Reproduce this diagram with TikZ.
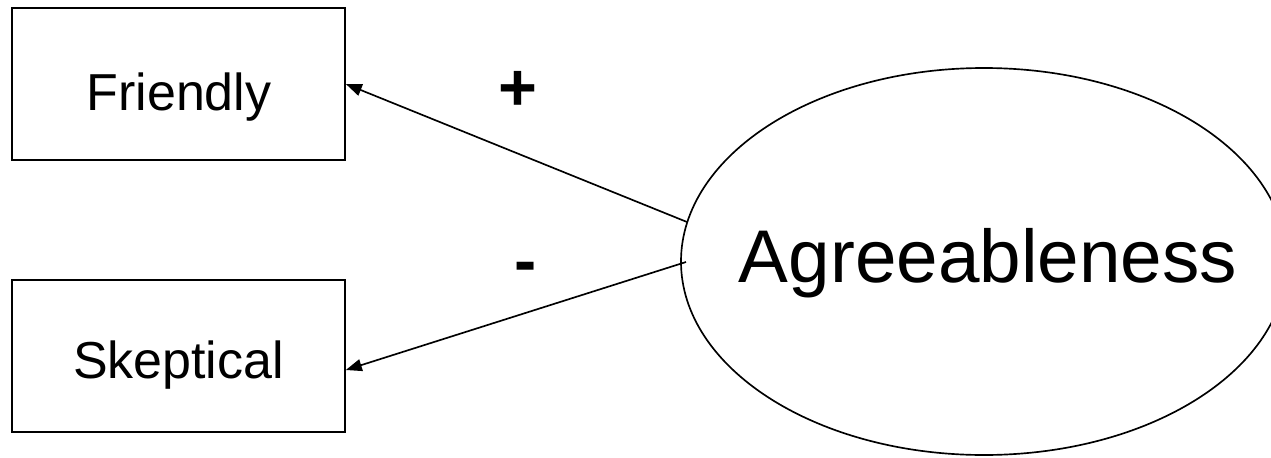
\documentclass[tikz,border=0pt]{standalone}
\usepackage{fontspec}
\setmainfont{Liberation Sans}
\usetikzlibrary{arrows.meta,shapes.geometric}
\begin{document}
\begin{tikzpicture}[x=0.75pt,y=-0.75pt,
  box/.style={draw,line width=1.25pt,minimum width=333*0.75pt,inner sep=0pt},
  lat/.style={draw,ellipse,line width=1.25pt,minimum width=606*0.75pt,minimum height=387*0.75pt,inner sep=0pt},
  arr/.style={line width=1.25pt,-{Triangle[length=12pt,width=9pt]}},
  lbl/.style={font=\fontsize{39}{44}\selectfont},
  sgn/.style={font=\fontsize{50}{54}\selectfont\bfseries},
  bigl/.style={font=\fontsize{56}{62}\selectfont}]
\useasboundingbox (0,0) rectangle (1271,457);
\begin{scope}
\clip (0,0) rectangle (1271,457);
\node[box,minimum height=152*0.75pt] (F) at (178.5,84) {};
\node[box,minimum height=152*0.75pt] (S) at (178.5,356) {};
\node[lat] (A) at (984,261.5) {};
\end{scope}
\node[lbl,anchor=base] (Ft) at (179,110) {Friendly};
\node[lbl,anchor=base] (St) at (178.5,378) {Skeptical};
\node[bigl,anchor=base] (At) at (988,282) {Agreeableness};
\coordinate (s1) at (687,222);
\coordinate (s2) at (686,262);
\draw[arr] (s1) -- (F.east);
\draw[arr] (s2) -- ([yshift=-14*0.75pt]S.east);
\node[sgn,anchor=base] (plus) at (518,110) {+};
\node[sgn,anchor=base] (minus) at (526,283) {-};
\end{tikzpicture}
\end{document}
